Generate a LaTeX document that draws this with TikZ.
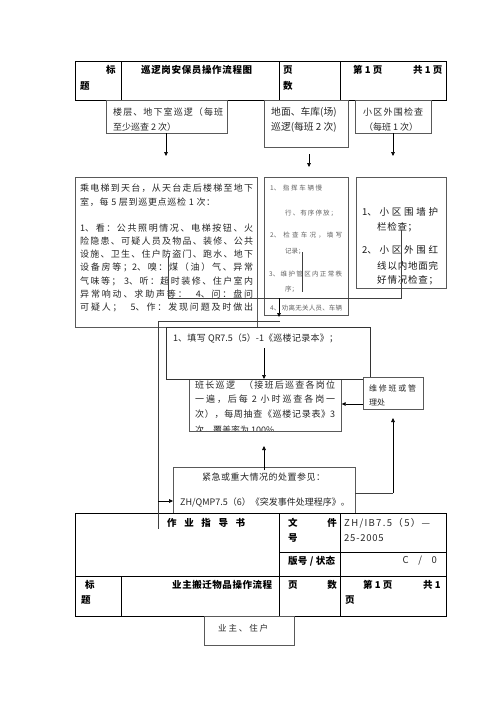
\documentclass[tikz,border=0pt]{standalone}
\usepackage{fontspec}
\setmainfont{Noto Sans CJK SC}
\usetikzlibrary{arrows.meta}
\XeTeXinterchartokenstate=1
\newXeTeXintercharclass\CJKcls
\newcount\mycnt
\mycnt="3000
\loop\ifnum\mycnt<"3040 \XeTeXcharclass\mycnt=\CJKcls \advance\mycnt 1 \repeat
\mycnt="4E00
\loop\ifnum\mycnt<"A000 \XeTeXcharclass\mycnt=\CJKcls \advance\mycnt 1 \repeat
\mycnt="FF00
\loop\ifnum\mycnt<"FFF0 \XeTeXcharclass\mycnt=\CJKcls \advance\mycnt 1 \repeat
\XeTeXinterchartoks\CJKcls\CJKcls={\hskip0pt plus 1pt\relax}
\newcommand\myfs[1]{\fontsize{#1}{#1}\selectfont}
\newcommand\jl[2]{\makebox[#1pt][s]{#2}}
\begin{document}
\begin{tikzpicture}[x=1pt,y=-1pt,
  tbl/.style={draw=black,line width=0.9pt},
  tblbox/.style={draw=black,line width=0.9pt,fill=white,inner sep=0,anchor=north west},
  box/.style={draw=black!65,line width=0.7pt,fill=white,inner sep=0,anchor=north west},
  txt/.style={inner sep=0,anchor=west,text=black!85},
  ttxt/.style={inner sep=0,anchor=west,text=black,font=\myfs{9.5}\bfseries},
  ltxt/.style={inner sep=0,anchor=west,text=black!85,font=\myfs{9.5}},
  arr/.style={draw=black,line width=0.6pt,-{Triangle[length=4pt,width=3.6pt]}},
  ln/.style={draw=black!75,line width=0.7pt},
  font=\myfs{9}]
\fill[white] (0,0) rectangle (500,707);
\useasboundingbox (0,0) rectangle (500,707);

% ---------- top table ----------
\node[tblbox,minimum width=371pt,minimum height=39pt] (t1) at (75,61) {};
\draw[tbl] (121,61) -- (121,100) (279,61) -- (279,100) (340,61) -- (340,100);
\node[ttxt] (t1a) at (106,70) {标};
\node[ttxt] (t1b) at (80,86) {题};
\node[ttxt] (t1c) at (141,70) {\jl{111}{巡逻岗安保员操作流程图}};
\node[ttxt] (t1d) at (283,70) {页};
\node[ttxt] (t1e) at (283,86) {数};
\node[ttxt] (t1f) at (353,70) {第 1 页};
\node[ttxt] (t1g) at (413,70) {共 1 页};

% ---------- row 1 ----------
\node[box,minimum width=121pt,minimum height=33pt] (b1) at (106,100) {};
\node[box,minimum width=84pt,minimum height=47pt] (b2) at (264,100) {};
\node[box,minimum width=76pt,minimum height=33pt] (b3) at (355,100) {};
\node[txt] (b1a) at (113,112) {\jl{110}{楼层、地下室巡逻（每班}};
\node[txt] (b1b) at (113,127) {至少巡查 2 次）};
\node[txt,font=\myfs{9.8}] (b2a) at (271,112) {地面、车库(场)};
\node[txt,font=\myfs{9.8}] (b2b) at (271,127) {巡逻(每班 2 次)};
\node[txt] (b3a) at (363,112) {\jl{60}{小区外围检查}};
\node[txt] (b3b) at (364,127) {\jl{54}{（每班 1 次）}};
\coordinate (a1s) at (166,133); \coordinate (a1e) at (166,156);
\coordinate (a2s) at (309,154); \coordinate (a2e) at (309,167);
\coordinate (a3s) at (393,133); \coordinate (a3e) at (393,156);
\draw[arr] (a1s) -- (a1e);
\draw[arr] (a2s) -- (a2e);
\draw[arr] (a3s) -- (a3e);

% ---------- row 2 ----------
\node[box,minimum width=182pt,minimum height=150pt] (c1) at (75,177) {};
\node[box,minimum width=84pt,minimum height=138pt] (c2) at (264,177) {};
\node[box,minimum width=90pt,minimum height=111pt] (c3) at (356,177) {};
\begin{scope}[every node/.style={txt}]
\node (c1l1) at (80,188) {\jl{173}{乘电梯到天台，从天台走后楼梯至地下}};
\node (c1l2) at (80,202) {\jl{135}{室，每 5 层到巡更点巡检 1 次：}};
\node (c1l3) at (80,228) {\jl{173}{1、看：公共照明情况、电梯按钮、火}};
\node (c1l4) at (80,241) {\jl{173}{险隐患、可疑人员及物品、装修、公共}};
\node (c1l5) at (80,254) {\jl{173}{设施、卫生、住户防盗门、跑水、地下}};
\node (c1l6) at (80,267.5) {\jl{173}{设备房等；2、嗅：煤（油）气、异常}};
\node (c1l7) at (80,281) {\jl{173}{气味等； 3、听：超时装修、住户室内}};
\node (c1l8) at (80,294) {\jl{173}{异常响动、求助声等：\quad 4、问：盘问}};
\node (c1l9) at (80,307) {\jl{173}{可疑人；\quad 5、作：发现问题及时做出}};
\end{scope}
\begin{scope}[every node/.style={txt,text=black!62,font=\myfs{6.5}}]
\node (c2l1) at (270,188) {\jl{52}{1、 指挥车辆慢}};
\node (c2l2) at (285,213) {\jl{52}{行、有序停放；}};
\node (c2l3) at (270,235) {\jl{72}{2、 检查车况，填写}};
\node (c2l4) at (285,251) {记录；};
\node (c2l5) at (269,274) {\jl{73}{3、维护管区内正常秩}};
\node (c2l6) at (285,289) {序；};
\node (c2l7) at (270,308) {\jl{72}{4、 劝离无关人员、车辆}};
\end{scope}
\begin{scope}[every node/.style={txt,text=black!90,font=\myfs{9.5}}]
\node (c3l1) at (362,212) {\jl{76}{1、 小 区 围 墙 护}};
\node (c3l2) at (377,227) {\jl{40}{栏检查；}};
\node (c3l3) at (362,250) {\jl{76}{2、 小 区 外 围 红}};
\node (c3l4) at (377,266) {\jl{61}{线以内地面完}};
\node (c3l5) at (377,280) {\jl{61}{好情况检查；}};
\end{scope}

% ---------- 班长 box (partly covered) ----------
\node[box,minimum width=152pt,minimum height=61pt] (d2) at (189,370) {};
\begin{scope}
\clip (189,327) rectangle (341,430.5);
\node[txt] (d2l1) at (195,385) {\jl{140}{班长巡逻\quad （接班后巡查各岗位}};
\node[txt] (d2l2) at (195,399.5) {\jl{140}{一遍，后每 2 小时巡查各岗一}};
\node[txt] (d2l3) at (195,414) {\jl{140}{次），每周抽查《巡楼记录表》3}};
\node[txt] (d2l4) at (195,430) {次，覆盖率为 100\%};
\end{scope}

% ---------- 填写 box ----------
\node[box,draw=black!80,minimum width=204pt,minimum height=52pt] (d1) at (166,327) {};
\node[txt] (d1l1) at (173,338) {\jl{165}{1、填写 QR7.5（5）-1《巡楼记录本》；}};

% ---------- 维修 box ----------
\node[box,minimum width=60pt,minimum height=32pt] (w1) at (363,377) {};
\node[txt,font=\myfs{8}] (w1a) at (369,388) {\jl{47}{维修班或管}};
\node[txt,font=\myfs{8}] (w1b) at (369,402) {理处};

% ---------- 紧急 box ----------
\node[box,minimum width=182pt,minimum height=50pt] (e1) at (173,467) {};
\node[txt] (e1a) at (202,477) {\jl{123}{紧急或重大情况的处置参见：}};
\node[txt] (e1b) at (180,502) {\jl{168}{ZH/QMP7.5（6）《突发事件处理程序》。}};

% ---------- connector lines ----------
\coordinate (p1) at (168,256); \coordinate (p2) at (168,298);
\coordinate (p3) at (401,298); \coordinate (p4) at (401,230);
\coordinate (p5) at (302,252); \coordinate (p6) at (302,292);
\coordinate (p7) at (279,298); \coordinate (p8) at (279,317);
\coordinate (p9) at (158,321); \coordinate (p10) at (280,321);
\coordinate (p11) at (264,348); \coordinate (p12) at (264,379);
\coordinate (p13) at (264,470); \coordinate (p14) at (264,446);
\coordinate (p15) at (355,493); \coordinate (p16) at (393,493);
\coordinate (p17) at (393,418);
\draw[ln] (p1) -- (p2) -- (p3) -- (p4);
\draw[ln] (p5) -- (p6);
\draw[arr] (p7) -- (p8);
\draw[ln] (p10) -- (p9);
\draw[arr] (p11) -- (p12);
\draw[arr] (w1.west |- 0,404) -- (d2.east |- 0,404);
\draw[arr] (p13) -- (p14);
\draw[ln] (p15) -- (p16);
\draw[arr] (p16) -- (p17);

% ---------- bottom table ----------
\node[tblbox,minimum width=371pt,minimum height=103pt] (t2) at (75,513) {};
\draw[tbl] (75,576) -- (446,576) (279,552) -- (446,552)
  (279,513) -- (279,616) (340,513) -- (340,616) (121,576) -- (121,616);
\node[ttxt] (t2a) at (167,523) {\jl{78}{作 业 指 导 书}};
\node[ttxt] (t2b) at (288,523) {文};
\node[ttxt,anchor=east] (t2c) at (337,523) {件};
\node[ttxt] (t2d) at (288,538) {号};
\node[ltxt] (t2e) at (344,523) {\addfontfeature{LetterSpace=14}ZH/IB7.5（5）—};
\node[ltxt] (t2f) at (344,538) {\addfontfeature{LetterSpace=8}25-2005};
\node[ttxt] (t2g) at (288,561) {\jl{47}{版号 / 状态}};
\node[ltxt,anchor=east] (t2h) at (437,561) {C\quad /\quad 0};
\node[ttxt] (t2i) at (85,585) {标};
\node[ttxt] (t2j) at (81,600) {题};
\node[ttxt] (t2k) at (172,585) {\jl{100}{业主搬迁物品操作流程}};
\node[ttxt] (t2l) at (288,585) {页};
\node[ttxt,anchor=east] (t2m) at (337,585) {数};
\node[ttxt] (t2n) at (363,585) {第 1 页};
\node[ttxt] (t2o) at (423,585) {共 1};
\node[ttxt] (t2p) at (345,600) {页};

% long left line and arrow into 紧急 box
\coordinate (q1) at (158,529); \coordinate (q2) at (158,501);
\draw[ln] (p9) -- (q1);
\draw[arr] (q2) -- (e1.west |- q2);

% ---------- 业主 box ----------
\node[box,minimum width=90pt,minimum height=29pt] (y1) at (204,616) {};
\node[txt,font=\myfs{8.5}] (y1a) at (218,628) {\jl{50}{业主、住户}};
\end{tikzpicture}
\end{document}
